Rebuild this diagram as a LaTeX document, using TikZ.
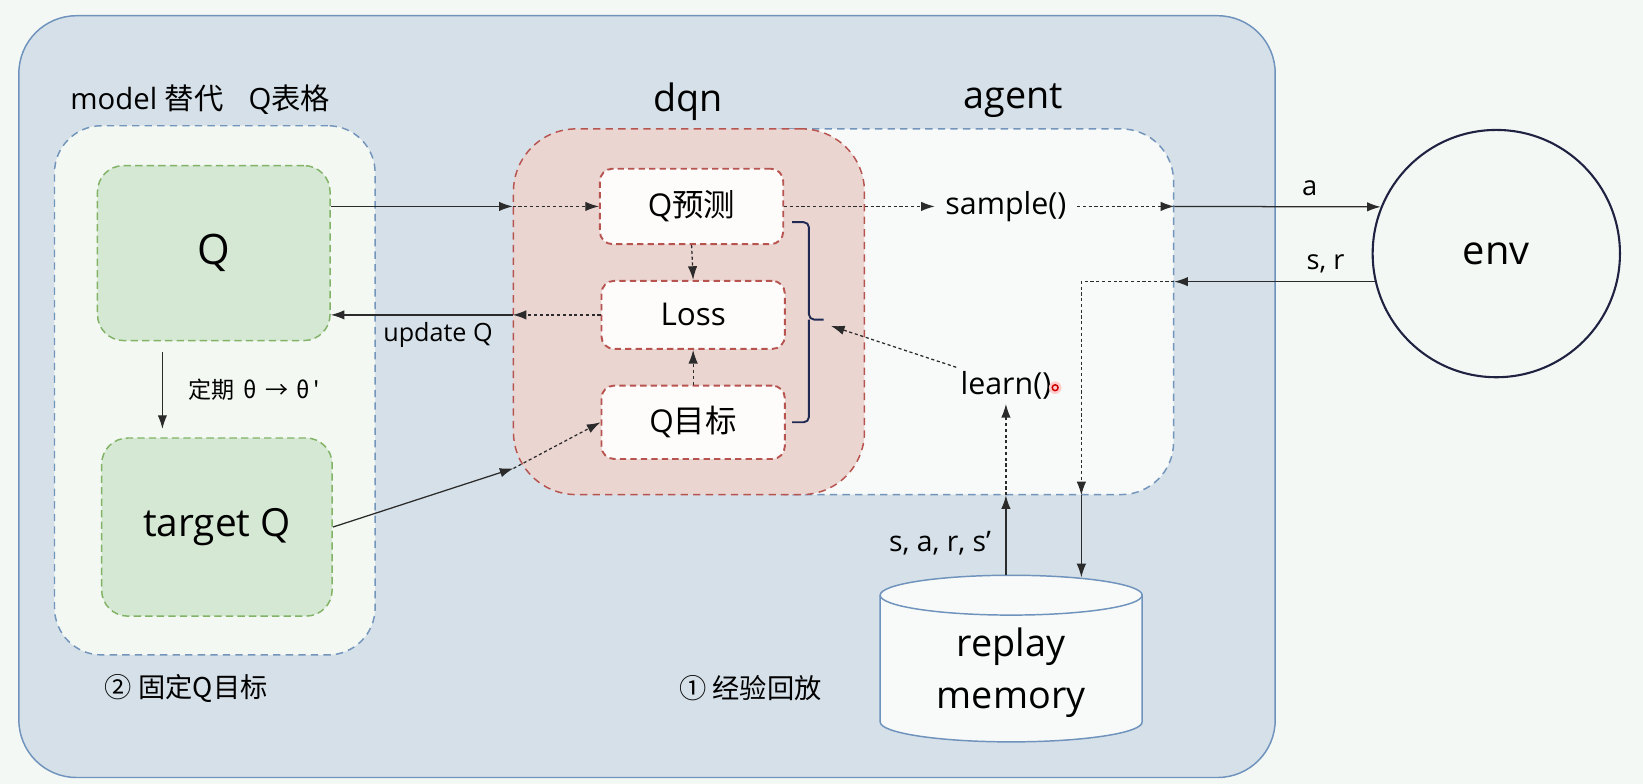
\documentclass[tikz,border=0pt]{standalone}
\usepackage{fontspec}
\setmainfont{Open Sans}
\newfontfamily\cjk{Noto Sans CJK SC}
\usetikzlibrary{arrows.meta,calc}
\definecolor{pagebg}{HTML}{F4F8F5}
\definecolor{outerfill}{HTML}{D5E0E8}
\definecolor{outerline}{HTML}{6F93BD}
\definecolor{contline}{HTML}{7395BC}
\definecolor{modelfill}{HTML}{F3F8F3}
\definecolor{agentfill}{HTML}{F7FAF8}
\definecolor{greenfill}{HTML}{D5E8D4}
\definecolor{greenline}{HTML}{82B366}
\definecolor{dqnfill}{HTML}{EBD5D1}
\definecolor{dqnline}{HTML}{B85450}
\definecolor{innerfill}{HTML}{FDFCFB}
\definecolor{bracketc}{HTML}{1E2A52}
\definecolor{arrowc}{HTML}{2B2B2B}
\definecolor{envline}{HTML}{1F2240}
\begin{document}
\begin{tikzpicture}[x=1pt,y=-1pt,
  fsz/.style={font=\fontsize{#1pt}{#1pt}\selectfont},
  cont/.style={draw=#1, dash pattern=on 7pt off 5pt, line width=1.4pt},
  greenbox/.style={draw=greenline, fill=greenfill, dash pattern=on 7pt off 4pt, line width=1.4pt, rounded corners=25pt},
  innerbox/.style={draw=dqnline, fill=innerfill, dash pattern=on 6pt off 4pt, line width=1.8pt, rounded corners=12pt, minimum width=175pt, fsz=30},
  txt/.style={inner sep=0pt, text=black},
  solidarrow/.style={draw=arrowc, line width=1.2pt, -{Latex[length=13pt,width=9pt]}},
  dotarrow/.style={solidarrow, dash pattern=on 3pt off 2.5pt},
]
\useasboundingbox (0,0) rectangle (1568,748);
\fill[pagebg] (0,0) rectangle (1568,748);

% outer frame
\node[draw=outerline, fill=outerfill, line width=1.4pt, rounded corners=55pt,
      minimum width=1199pt, minimum height=727pt] (outer) at (617.5,378.5) {};

% containers
\node[cont=contline, fill=modelfill, rounded corners=45pt, minimum width=306pt, minimum height=505pt] (model) at (205,372.5) {};
\node[cont=contline, fill=agentfill, rounded corners=50pt, minimum width=420pt, minimum height=349pt] (agent) at (910,297.5) {};
\node[cont=dqnline, fill=dqnfill, rounded corners=60pt, minimum width=335pt, minimum height=349pt] (dqn) at (657.5,297.5) {};

% titles
\node[txt, fsz=28, anchor=west] (mtitle) at (67,95) {model {\cjk 替代}\hspace{24pt}Q{\cjk 表格}};
\node[txt, fsz=36] (dqntitle) at (657,97) {dqn};
\node[txt, fsz=36] (agenttitle) at (967,96) {agent};

% green boxes
\node[greenbox, minimum width=222pt, minimum height=167pt, fsz=40] (Q) at (204,241.5) {Q};
\node[greenbox, minimum width=220pt, minimum height=170pt, fsz=37] (tQ) at (207,503) {target Q};

% inner dqn boxes
\node[innerbox, minimum height=72pt] (Qp) at (660,197) {Q{\cjk 预测}};
\node[innerbox, minimum height=65pt] (Loss) at (661.5,300.5) {Loss};
\node[innerbox, minimum height=70pt] (Qt) at (661.5,403) {Q{\cjk 目标}};

% labels
\node[txt, fsz=22, anchor=west] (theta) at (180,372) {{\cjk 定期\hspace{8pt}θ\hspace{8pt}→\hspace{8pt}θ\hspace{3pt}'}};
\node[txt, fsz=26, anchor=west] (fixq) at (100,657) {{\cjk ② 固定Q目标}};
\node[txt, fsz=26, anchor=west] (expr) at (648,657) {{\cjk ① 经验回放}};
\node[txt, fsz=24] (updq) at (418,320) {update Q};
\node[fsz=29, inner sep=10pt] (sample) at (960,197) {sample()};
\node[fsz=29, inner sep=4pt] (learn) at (960,368) {learn()};
\node[txt, fsz=26] (alab) at (1250,180) {a};
\node[txt, fsz=26] (srlab) at (1265,252) {s, r};
\node[txt, fsz=27, anchor=east] (sars) at (946,518) {s, a, r, s'};

% env
\node[circle, draw=envline, fill=pagebg, line width=2pt, minimum size=236pt, fsz=38] (env) at (1428,242) {env};

% replay memory cylinder
\path[draw=outerline, fill=agentfill, line width=1.4pt]
  (840,568) -- (840,689) arc[start angle=180, end angle=360, x radius=125pt, y radius=19pt]
  -- (1090,568) arc[start angle=0, end angle=180, x radius=125pt, y radius=19pt] -- cycle;
\draw[outerline, line width=1.4pt] (840,568) arc[start angle=180, end angle=360, x radius=125pt, y radius=19pt];
\node[align=center, font=\fontsize{36pt}{50pt}\selectfont] (mem) at (965,642) {replay\\memory};

% Q -> Q预测
\coordinate (in1) at (dqn.west |- Qp.west);
\draw[solidarrow] (Q.east |- Qp.west) -- (in1);
\draw[dotarrow] (in1) -- (Qp.west);

% Loss -> Q (update)
\coordinate (in2) at (dqn.west |- Loss.west);
\draw[dotarrow] (Loss.west) -- (in2);
\draw[solidarrow] (in2) -- (Q.east |- Loss.west);

% target Q -> Q目标
\coordinate (in3) at (490,447);
\draw[solidarrow] (tQ.east) -- (in3);
\draw[dotarrow] (in3) -- (Qt.west);

% inner arrows
\draw[dotarrow] (Qp.south) -- (Loss.north);
\draw[dotarrow] (Qt.north) -- (Loss.south);

% Q -> target Q
\draw[solidarrow] ([xshift=-49pt,yshift=-10pt]Q.south) -- ([xshift=-52pt,yshift=8pt]tQ.north);

% bracket
\draw[bracketc, line width=1.8pt, rounded corners=5pt] (756,212) -| (772,305) -- (786,305);
\draw[bracketc, line width=1.8pt, rounded corners=5pt] (756,403) -| (772,305);
\coordinate (brtip) at (793,311);
\draw[dotarrow] (learn.north west) -- (brtip);

% sample / env
\draw[dotarrow] (Qp.east) -- (sample.west);
\coordinate (ar) at (agent.east |- sample.east);
\draw[dotarrow] (sample.east) -- (ar);
\draw[solidarrow] (ar) -- (env.158);

\coordinate (sr) at (agent.east |- env.193);
\draw[solidarrow] (env.193) -- (sr);
\coordinate (colr) at (1032,0);
\coordinate (ab2) at (colr |- agent.south);
\draw[dotarrow] (sr) -| (ab2);
\coordinate (mt2) at (1032,551);
\draw[solidarrow] (ab2) -- (mt2);

\coordinate (coll) at (960,0);
\coordinate (ab1) at (coll |- agent.south);
\coordinate (mt1) at (960,549);
\draw[solidarrow] (mt1) -- (ab1);
\draw[dotarrow] (ab1) -- (learn.south);

% pointer dot
\fill[red!20] (1007,370) circle (6pt);
\draw[red!80!black, line width=1.4pt] (1007,370) circle (2.8pt);
\end{tikzpicture}
\end{document}
